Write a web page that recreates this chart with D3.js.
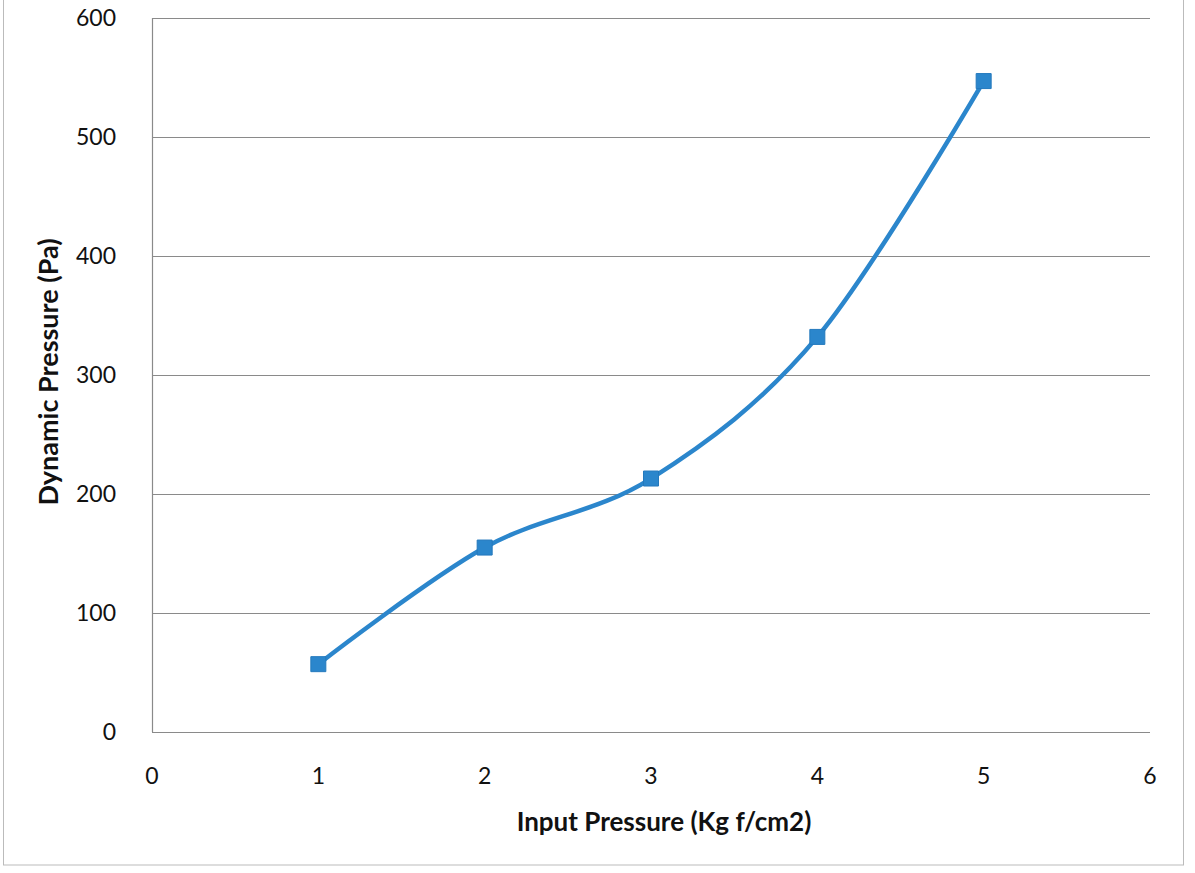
<!DOCTYPE html>
<html>
<head>
<meta charset="utf-8">
<script src="https://cdn.jsdelivr.net/npm/d3@7.9.0/dist/d3.min.js"></script>
<style>
  html, body { margin: 0; padding: 0; background: #fff; }
  text { font-family: Lato, "Open Sans", sans-serif; fill: #111; }
</style>
</head>
<body>
<div id="chart"></div>
<script>
// data
const inputPressure = [1, 2, 3, 4, 5];
const dynamicPressure = [57, 155, 213, 332, 547];
const xTicks = [0, 1, 2, 3, 4, 5, 6];
const yTicks = [0, 100, 200, 300, 400, 500, 600];

// config
const width = 1195,
  height = 873;
const margin = { left: 152, right: 45, top: 18, bottom: 141 };

const svg = d3
  .select("#chart")
  .append("svg")
  .attr("width", width)
  .attr("height", height);

// outer chart frame
svg
  .append("rect")
  .attr("x", 3.5)
  .attr("y", -10)
  .attr("width", 1180)
  .attr("height", 875)
  .attr("fill", "none")
  .attr("stroke", "#bbb")
  .attr("stroke-width", 1);

const x = d3
  .scaleLinear()
  .domain([0, 6])
  .range([margin.left, width - margin.right]);
const y = d3
  .scaleLinear()
  .domain([0, 600])
  .range([height - margin.bottom, margin.top]);

// gridlines
svg
  .append("g")
  .selectAll("line")
  .data(yTicks)
  .join("line")
  .attr("x1", x(0))
  .attr("x2", x(6))
  .attr("y1", (d) => Math.round(y(d)) + 0.5)
  .attr("y2", (d) => Math.round(y(d)) + 0.5)
  .attr("stroke", "#8a8a8a")
  .attr("stroke-width", 1.2);

// left axis line
svg
  .append("line")
  .attr("x1", x(0) + 0.5)
  .attr("x2", x(0) + 0.5)
  .attr("y1", y(600))
  .attr("y2", y(0))
  .attr("stroke", "#8a8a8a")
  .attr("stroke-width", 1.2);

// y tick labels
svg
  .append("g")
  .selectAll("text")
  .data(yTicks)
  .join("text")
  .attr("x", 116)
  .attr("y", (d) => y(d))
  .attr("dy", "0.35em")
  .attr("text-anchor", "end")
  .style("font-size", "23px")
  .text((d) => d);

// x tick labels
svg
  .append("g")
  .selectAll("text")
  .data(xTicks)
  .join("text")
  .attr("x", (d) => x(d))
  .attr("y", 784)
  .attr("text-anchor", "middle")
  .style("font-size", "23px")
  .text((d) => d);

// axis titles
svg
  .append("text")
  .attr("x", 664)
  .attr("y", 831)
  .attr("text-anchor", "middle")
  .style("font-size", "26px")
  .style("font-weight", "bold")
  .text("Input Pressure (Kg f/cm2)");

svg
  .append("text")
  .attr("transform", `translate(58,372) rotate(-90)`)
  .attr("text-anchor", "middle")
  .style("font-size", "27px")
  .style("font-weight", "bold")
  .text("Dynamic Pressure (Pa)");

// series
const points = inputPressure.map((d, i) => [d, dynamicPressure[i]]);

const line = d3
  .line()
  .x((d) => x(d[0]))
  .y((d) => y(d[1]))
  .curve(d3.curveCardinal.tension(0));

svg
  .append("path")
  .datum(points)
  .attr("d", line)
  .attr("fill", "none")
  .attr("stroke", "#2b86cc")
  .attr("stroke-width", 4.5)
  .attr("stroke-linecap", "round");

svg
  .append("g")
  .selectAll("path")
  .data(points)
  .join("path")
  .attr("transform", (d) => `translate(${x(d[0])},${y(d[1])})`)
  .attr("d", d3.symbol().type(d3.symbolSquare).size(225))
  .attr("fill", "#2b86cc")
  .attr("stroke", "#2479bd")
  .attr("stroke-width", 1);
</script>
</body>
</html>
